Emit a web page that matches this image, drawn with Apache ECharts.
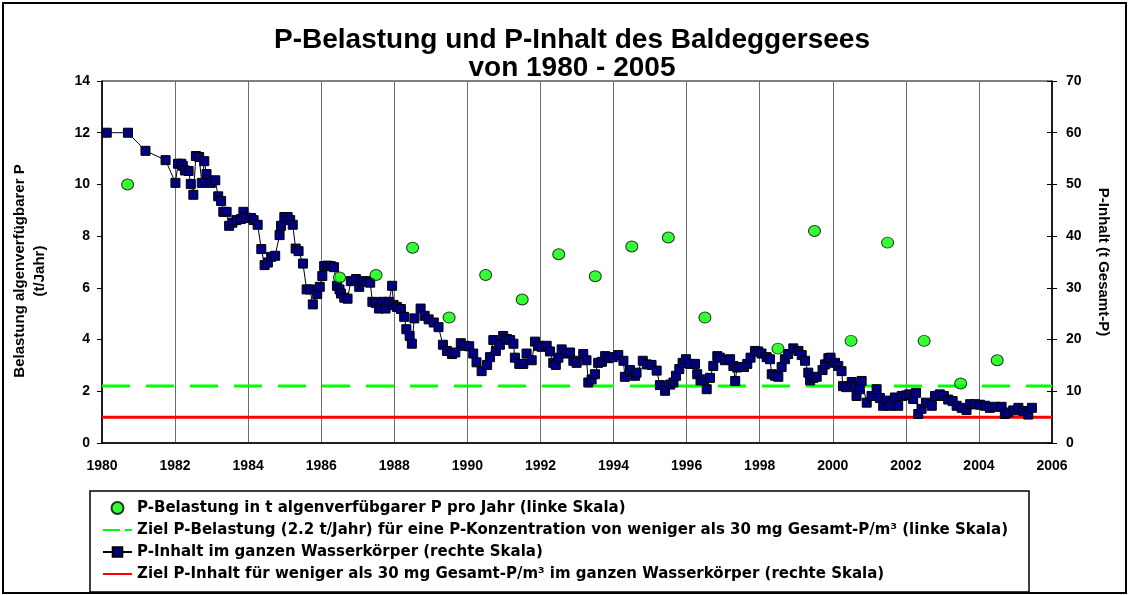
<!DOCTYPE html>
<html>
<head>
<meta charset="utf-8">
<script src="https://cdn.jsdelivr.net/npm/echarts@6/dist/echarts.min.js"></script>
<style>
  html, body { margin: 0; padding: 0; background: #fff; }
  #main { width: 1130px; height: 595px; }
</style>
</head>
<body>
<div id="main"></div>
<script>
// P-Belastung (linke Skala), Jahreswerte
var belastungYear = [1980.7, 1986.5, 1987.5, 1988.5, 1989.5, 1990.5, 1991.5, 1992.5, 1993.5, 1994.5,
  1995.5, 1996.5, 1998.5, 1999.5, 2000.5, 2001.5, 2002.5, 2003.5, 2004.5];
var belastungValue = [10.0, 6.4, 6.5, 7.55, 4.85, 6.5, 5.55, 7.3, 6.45, 7.6,
  7.95, 4.85, 3.65, 8.2, 3.95, 7.75, 3.95, 2.3, 3.2];

// P-Inhalt im ganzen Wasserkoerper (rechte Skala)
var inhaltYear = [1980.13, 1980.71, 1981.19, 1981.74, 1982.01, 1982.08, 1982.17, 1982.21, 1982.27, 1982.37,
  1982.43, 1982.50, 1982.57, 1982.66, 1982.73, 1982.80, 1982.86, 1982.98, 1983.10, 1983.18,
  1983.26, 1983.32, 1983.41, 1983.48, 1983.57, 1983.68, 1983.80, 1983.87, 1983.94, 1984.08,
  1984.15, 1984.26, 1984.36, 1984.45, 1984.54, 1984.63, 1984.74, 1984.86, 1984.90, 1984.99,
  1985.08, 1985.15, 1985.22, 1985.30, 1985.38, 1985.50, 1985.60, 1985.69, 1985.77, 1985.89,
  1985.96, 1986.03, 1986.08, 1986.17, 1986.26, 1986.35, 1986.43, 1986.50, 1986.54, 1986.63,
  1986.72, 1986.81, 1986.95, 1987.04, 1987.13, 1987.22, 1987.34, 1987.40, 1987.49, 1987.58,
  1987.67, 1987.76, 1987.85, 1987.94, 1987.98, 1988.07, 1988.18, 1988.27, 1988.33, 1988.42,
  1988.48, 1988.55, 1988.72, 1988.83, 1988.94, 1989.08, 1989.21, 1989.33, 1989.44, 1989.58,
  1989.67, 1989.82, 1989.93, 1990.05, 1990.16, 1990.25, 1990.39, 1990.54, 1990.62, 1990.71,
  1990.78, 1990.89, 1990.98, 1991.08, 1991.17, 1991.26, 1991.30, 1991.42, 1991.53, 1991.62,
  1991.76, 1991.85, 1991.94, 1992.03, 1992.17, 1992.26, 1992.35, 1992.42, 1992.49, 1992.58,
  1992.70, 1992.81, 1992.90, 1992.99, 1993.17, 1993.26, 1993.31, 1993.40, 1993.49, 1993.58,
  1993.68, 1993.77, 1993.86, 1993.98, 1994.13, 1994.27, 1994.31, 1994.45, 1994.59, 1994.63,
  1994.80, 1994.91, 1995.04, 1995.18, 1995.27, 1995.41, 1995.55, 1995.64, 1995.71, 1995.80,
  1995.89, 1995.98, 1996.09, 1996.23, 1996.29, 1996.38, 1996.47, 1996.55, 1996.64, 1996.73,
  1996.84, 1996.91, 1997.05, 1997.19, 1997.28, 1997.33, 1997.38, 1997.46, 1997.57, 1997.66,
  1997.75, 1997.87, 1997.96, 1998.05, 1998.19, 1998.28, 1998.33, 1998.42, 1998.51, 1998.60,
  1998.69, 1998.78, 1998.92, 1999.06, 1999.15, 1999.24, 1999.33, 1999.38, 1999.47, 1999.56,
  1999.72, 1999.79, 1999.88, 1999.94, 2000.06, 2000.15, 2000.24, 2000.28, 2000.37, 2000.52,
  2000.61, 2000.65, 2000.74, 2000.79, 2000.93, 2001.06, 2001.20, 2001.29, 2001.38, 2001.47,
  2001.57, 2001.70, 2001.79, 2001.89, 2002.01, 2002.09, 2002.20, 2002.28, 2002.34, 2002.43,
  2002.55, 2002.71, 2002.80, 2002.93, 2003.04, 2003.16, 2003.28, 2003.39, 2003.53, 2003.66,
  2003.76, 2003.89, 2004.03, 2004.17, 2004.30, 2004.44, 2004.62, 2004.71, 2004.80, 2004.94,
  2005.08, 2005.21, 2005.35, 2005.45];
var inhaltValue = [60.0, 60.0, 56.5, 54.7, 50.3, 54.0, 54.0, 53.6, 52.7, 52.6,
  50.1, 48.0, 55.5, 55.3, 50.3, 54.5, 52.0, 50.3, 50.8, 47.7,
  46.8, 44.7, 44.7, 42.0, 42.6, 43.1, 43.3, 44.7, 43.6, 43.5,
  43.1, 42.2, 37.5, 34.4, 34.9, 36.0, 36.2, 40.2, 42.0, 43.7,
  43.7, 43.1, 42.2, 37.6, 37.1, 34.7, 29.7, 29.7, 26.8, 28.8,
  30.2, 32.3, 34.2, 34.3, 34.2, 34.0, 30.4, 29.7, 28.9, 28.1,
  27.9, 31.3, 31.7, 30.2, 31.2, 31.3, 31.0, 27.3, 27.1, 26.0,
  27.3, 26.0, 27.3, 30.4, 26.7, 26.3, 25.9, 24.4, 22.0, 20.7,
  19.2, 24.1, 26.0, 24.6, 23.9, 23.3, 22.4, 19.0, 17.8, 17.2,
  17.5, 19.3, 18.8, 18.7, 17.3, 15.6, 13.9, 15.1, 16.6, 19.9,
  17.8, 19.0, 20.7, 20.1, 19.9, 19.2, 16.5, 15.3, 15.3, 17.3,
  16.0, 19.6, 18.8, 18.6, 18.8, 17.7, 15.5, 15.1, 16.5, 18.1,
  17.3, 17.5, 15.9, 15.5, 17.2, 16.0, 11.7, 12.3, 13.3, 15.5,
  15.7, 16.8, 16.4, 16.6, 17.0, 15.9, 12.8, 14.1, 13.0, 13.6,
  15.9, 15.2, 15.1, 14.0, 11.2, 10.1, 11.3, 11.7, 13.0, 14.3,
  15.5, 16.2, 15.3, 15.3, 13.3, 12.1, 12.3, 10.4, 12.6, 14.9,
  16.8, 16.5, 16.0, 16.2, 14.9, 12.0, 14.6, 14.7, 14.7, 15.3,
  16.5, 17.8, 17.7, 17.3, 16.6, 16.2, 13.3, 13.0, 12.8, 14.7,
  16.2, 17.2, 18.3, 17.8, 17.0, 15.9, 13.6, 12.1, 12.6, 12.8,
  14.1, 15.2, 16.4, 16.5, 15.5, 14.9, 13.9, 11.0, 10.8, 11.8,
  10.9, 9.1, 10.4, 12.0, 7.8, 9.1, 10.4, 8.7, 7.2, 8.2,
  7.2, 8.8, 7.2, 9.1, 9.2, 9.4, 8.5, 9.7, 5.6, 6.6,
  7.8, 7.2, 9.1, 9.4, 9.1, 8.4, 8.1, 7.2, 6.8, 6.4,
  7.5, 7.5, 7.4, 7.2, 6.8, 7.0, 7.0, 5.6, 5.9, 6.3,
  6.8, 6.2, 5.5, 6.8];

// Zielwerte
var zielBelastung = 2.2;   // t/Jahr (linke Skala)
var zielInhalt = 5;        // t (rechte Skala)
var yearRange = [1980, 2006];

var nameBelastung = 'P-Belastung in t algenverfübgarer P pro Jahr (linke Skala)';
var nameZielBelastung = 'Ziel P-Belastung (2.2 t/Jahr) für eine P-Konzentration von weniger als 30 mg Gesamt-P/m³ (linke Skala)';
var nameInhalt = 'P-Inhalt im ganzen Wasserkörper (rechte Skala)';
var nameZielInhalt = 'Ziel P-Inhalt für weniger als 30 mg Gesamt-P/m³ im ganzen Wasserkörper (rechte Skala)';

var FONT = 'Liberation Sans, Arial, sans-serif';

var myChart = echarts.init(document.getElementById('main'));

var inhaltData = [];
for (var i = 0; i < inhaltYear.length; i++) {
  inhaltData.push([inhaltYear[i], inhaltValue[i]]);
}
var belastungData = [];
for (var j = 0; j < belastungYear.length; j++) {
  belastungData.push([belastungYear[j], belastungValue[j]]);
}

var labelStyle = {
  fontFamily: FONT,
  fontWeight: 'bold',
  fontSize: 14,
  color: '#000'
};

var option = {
  backgroundColor: '#fff',
  animation: false,
  title: {
    text: 'P-Belastung und P-Inhalt des Baldeggersees\nvon 1980 - 2005',
    left: 567,
    top: 21,
    textAlign: 'center',
    textStyle: {
      fontFamily: FONT,
      fontWeight: 'bold',
      fontSize: 28,
      lineHeight: 28,
      color: '#000'
    }
  },
  graphic: [{
    type: 'rect',
    shape: { x: 3, y: 3, width: 1123, height: 590 },
    style: { fill: null, stroke: '#000', lineWidth: 2 },
    silent: true
  }, {
    type: 'rect',
    shape: { x: 90, y: 491, width: 939, height: 101 },
    style: { fill: null, stroke: '#000', lineWidth: 1.5 },
    silent: true
  }],
  legend: {
    orient: 'vertical',
    left: 102,
    top: 500,
    padding: 0,
    itemWidth: 29,
    itemHeight: 12,
    itemGap: 6,
    textStyle: {
      fontFamily: 'DejaVu Sans, sans-serif',
      fontWeight: 'bold',
      fontSize: 15,
      lineHeight: 16,
      color: '#000'
    },
    data: [
      { name: nameBelastung },
      { name: nameZielBelastung, itemStyle: { opacity: 0 }, lineStyle: { type: [17, 5] } },
      { name: nameInhalt },
      { name: nameZielInhalt, itemStyle: { opacity: 0 } }
    ]
  },
  grid: {
    left: 102,
    right: 78,
    top: 81,
    bottom: 152,
    show: true,
    borderColor: '#000',
    borderWidth: 1
  },
  xAxis: {
    type: 'value',
    min: yearRange[0],
    max: yearRange[1],
    interval: 2,
    axisLine: { show: true, lineStyle: { color: '#000', width: 1.5 } },
    axisTick: { show: false },
    axisLabel: Object.assign({
      margin: 16,
      formatter: function (v) { return String(v); }
    }, labelStyle),
    splitLine: { show: true, lineStyle: { color: '#6e6e6e', width: 1 } }
  },
  yAxis: [{
    type: 'value',
    min: 0,
    max: 14,
    interval: 2,
    position: 'left',
    name: 'Belastung algenverfügbarer P\n(t/Jahr)',
    nameLocation: 'middle',
    nameRotate: 90,
    nameGap: 52,
    nameTextStyle: {
      fontFamily: FONT,
      fontWeight: 'bold',
      fontSize: 15,
      lineHeight: 20,
      color: '#000',
      padding: [0, 18, 0, 0]
    },
    axisLine: { show: true, lineStyle: { color: '#000', width: 1.5 } },
    axisTick: { show: true, length: 5, lineStyle: { color: '#000' } },
    axisLabel: Object.assign({ margin: 12 }, labelStyle),
    splitLine: { show: false }
  }, {
    type: 'value',
    min: 0,
    max: 70,
    interval: 10,
    position: 'right',
    name: 'P-Inhalt (t Gesamt-P)',
    nameLocation: 'middle',
    nameRotate: -90,
    nameGap: 44,
    nameTextStyle: {
      fontFamily: FONT,
      fontWeight: 'bold',
      fontSize: 15,
      color: '#000'
    },
    axisLine: { show: true, lineStyle: { color: '#000', width: 1.5 } },
    axisTick: { show: true, length: 5, lineStyle: { color: '#000' } },
    axisLabel: Object.assign({ margin: 14 }, labelStyle),
    splitLine: { show: false }
  }, {
    // nur fuer die nach innen gehenden Striche der rechten Skala
    type: 'value',
    min: 0,
    max: 70,
    interval: 10,
    position: 'right',
    axisLine: { show: false },
    axisTick: { show: true, inside: true, length: 5, lineStyle: { color: '#000' } },
    axisLabel: { show: false },
    splitLine: { show: false }
  }],
  series: [{
    name: nameBelastung,
    type: 'scatter',
    yAxisIndex: 0,
    symbol: 'circle',
    symbolSize: [12, 11],
    itemStyle: { color: '#00ff00', borderColor: '#000', borderWidth: 1 },
    z: 5,
    data: belastungData
  }, {
    name: nameZielBelastung,
    type: 'line',
    yAxisIndex: 0,
    symbol: 'none',
    lineStyle: { color: '#00ff00', width: 3, type: [28, 16] },
    itemStyle: { color: '#00ff00' },
    z: 2,
    data: [[yearRange[0], zielBelastung], [yearRange[1], zielBelastung]]
  }, {
    name: nameInhalt,
    type: 'line',
    yAxisIndex: 1,
    symbol: 'rect',
    symbolSize: 9,
    showAllSymbol: true,
    lineStyle: { color: '#000', width: 1 },
    itemStyle: { color: '#000080', borderColor: '#000', borderWidth: 1 },
    z: 4,
    data: inhaltData
  }, {
    name: nameZielInhalt,
    type: 'line',
    yAxisIndex: 1,
    symbol: 'none',
    lineStyle: { color: '#ff0000', width: 3 },
    itemStyle: { color: '#ff0000' },
    z: 2,
    data: [[yearRange[0], zielInhalt], [yearRange[1], zielInhalt]]
  }]
};

myChart.setOption(option);
</script>
</body>
</html>
